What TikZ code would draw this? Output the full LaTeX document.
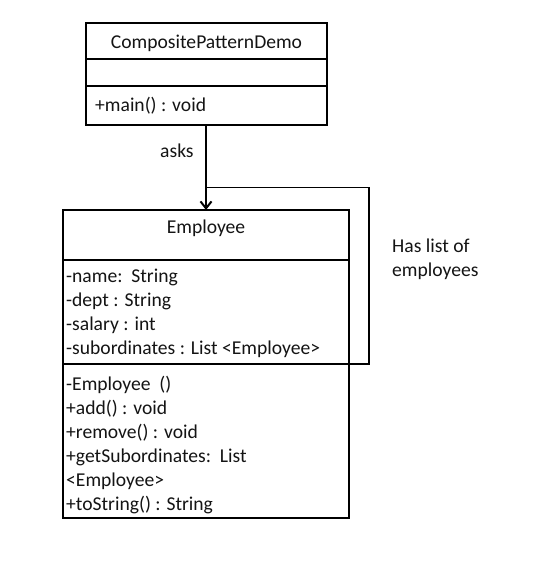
\documentclass[tikz,border=0pt]{standalone}
\usepackage{fontspec}
\setmainfont{Carlito}
\usetikzlibrary{arrows.meta}
\begin{document}
\begin{tikzpicture}[x=1pt,y=-1pt,
  box/.style={draw=black,line width=1.9pt,fill=white},
  txt/.style={inner sep=0pt,anchor=base west,text=black!92,font=\fontsize{19.6}{23.8}\selectfont},
  ctxt/.style={txt,anchor=base},
  conn/.style={draw=black,line width=1.9pt}]
\useasboundingbox (0,0) rectangle (541,570);
% CompositePatternDemo class
\draw[box] (86,23) rectangle (327,125);
\draw[conn] (86,59) -- (327,59);
\draw[conn] (86,86) -- (327,86);
\node[ctxt] (dname) at (206.5,48) {CompositePatternDemo};
\node[txt] (dmain) at (95,111.5) {+main() : void};
% Employee class
\draw[box] (63,210) rectangle (349,518);
\draw[conn] (63,260) -- (349,260);
\draw[conn] (63,364) -- (349,364);
\node[ctxt] (ename) at (206,233) {Employee};
\foreach \t [count=\i] in {{-name:\ \ String},{-dept : String},{-salary : int},{-subordinates : List <Employee>}}
  \node[txt] (a\i) at (66,{282.8+(\i-1)*23.8}) {\t};
\foreach \t [count=\i] in {{-Employee\ \ ()},{+add() : void},{+remove() : void},{+getSubordinates:\ \ List},{<Employee>},{+toString() : String}}
  \node[txt] (m\i) at (66,{390+(\i-1)*24}) {\t};
% connectors
\coordinate (dS) at (206,125);
\coordinate (eN) at (206,210);
\coordinate (loopA) at (349,364);
\coordinate (loopB) at (369,187.5);
\draw[conn,-{Straight Barb[length=7pt,width=11pt,line width=2pt]}] (dS) -- (eN);
\draw[conn] (loopA) -| (loopB) -- (206,187.5);
\node[txt] (asks) at (160,157) {asks};
\node[txt] (has1) at (392,252.5) {Has list of};
\node[txt] (has2) at (392,276.5) {employees};
\end{tikzpicture}
\end{document}
